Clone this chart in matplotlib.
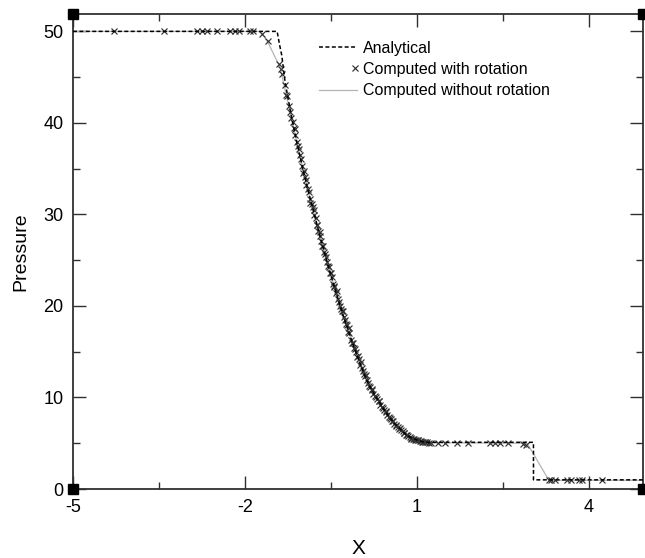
import numpy as np
import matplotlib
matplotlib.use("Agg")
import matplotlib.pyplot as plt
from matplotlib.legend_handler import HandlerLine2D

plt.rcParams["font.family"] = ["Liberation Sans", "DejaVu Sans"]
plt.rcParams["axes.unicode_minus"] = False

# Analytical solution
x_analytic = [-5.0, -1.44, -1.40, -1.36, -1.30, -1.20, -1.10, -1.00, -0.90, -0.80,
              -0.70, -0.60, -0.50, -0.40, -0.30, -0.20, -0.10, 0.00, 0.10, 0.20,
              0.30, 0.40, 0.50, 0.60, 0.70, 0.80, 0.90, 1.00, 1.10, 1.20,
              3.03, 3.03, 4.94]
p_analytic = [50.0, 50.0, 48.6, 47.4, 44.4, 41.0, 38.0, 35.2, 32.6, 30.2,
              27.8, 25.5, 23.3, 21.2, 19.2, 17.3, 15.5, 13.8, 12.2, 10.9,
              9.9, 8.9, 8.0, 7.2, 6.6, 6.0, 5.6, 5.35, 5.15, 5.1,
              5.1, 1.0, 1.0]

# Computed without rotation (grey line)
x_norot = [-5.0, -1.75, -1.70, -1.60, -1.50, -1.39, -1.30, -1.20, -1.10, -1.00,
           -0.90, -0.80, -0.70, -0.60, -0.50, -0.40, -0.30, -0.20, -0.10, 0.00,
           0.10, 0.20, 0.30, 0.40, 0.50, 0.60, 0.70, 0.80, 0.90, 1.00,
           1.10, 1.25, 2.92, 3.30, 4.94]
p_norot = [50.0, 50.0, 49.7, 48.8, 47.5, 46.1, 43.6, 40.8, 38.0, 35.2,
           32.6, 30.2, 27.8, 25.5, 23.3, 21.2, 19.2, 17.3, 15.5, 13.8,
           12.2, 10.9, 9.9, 8.9, 8.0, 7.2, 6.6, 6.0, 5.6, 5.35,
           5.15, 5.05, 5.0, 0.95, 0.95]

# Computed with rotation (x markers)
x_rot = [-4.28, -3.41, -2.84, -2.75, -2.66, -2.49, -2.26, -2.17, -2.10, -1.91,
         -1.86, -1.70, -1.60, -1.41, -1.38, -1.36, -1.31, -1.28, -1.24, -1.21,
         -1.17, -1.15, -1.12, -1.10, -1.08, -1.05, -1.03, -1.01, -0.98, -0.96,
         -0.94, -0.91, -0.89, -0.86, -0.84, -0.82, -0.79, -0.77, -0.74, -0.72,
         -0.69, -0.67, -0.64, -0.62, -0.59, -0.57, -0.54, -0.52, -0.49, -0.46,
         -0.44, -0.41, -0.38, -0.36, -0.33, -0.31, -0.28, -0.26, -0.23, -0.20,
         -0.18, -0.15, -0.12, -0.10, -0.07, -0.04, -0.02, 0.01, 0.04, 0.07,
         0.09, 0.12, 0.15, 0.18, 0.21, 0.24, 0.27, 0.30, 0.33, 0.36,
         0.39, 0.42, 0.45, 0.48, 0.51, 0.54, 0.57, 0.60, 0.63, 0.66,
         0.69, 0.72, 0.75, 0.78, 0.81, 0.84, 0.87, 0.90, 0.93, 0.96,
         0.99, 1.02, 1.05, 1.08, 1.11, 1.14, 1.17, 1.20, 1.24, 1.37,
         1.49, 1.70, 1.89, 2.27, 2.36, 2.45, 2.59, 2.85, 2.90, 3.30,
         3.34, 3.41, 3.62, 3.69, 3.83, 3.88, 4.23,
         # second row of nodes in the rarefaction fan
         -1.26, -1.19, -1.13, -1.06, -0.99, -0.93, -0.87, -0.80, -0.75, -0.70,
         -0.65, -0.60, -0.55, -0.50, -0.45, -0.40, -0.35, -0.29, -0.24, -0.19,
         -0.13, -0.08, -0.03, 0.02, 0.06, 0.11, 0.16, 0.22, 0.28, 0.34,
         0.40, 0.46, 0.52, 0.58, 0.64, 0.70, 0.77, 0.83, 0.89, 0.95,
         1.01, 1.07, 1.13]
p_rot = [50.0, 50.0, 50.0, 50.0, 50.0, 50.0, 50.0, 50.0, 50.0, 50.0,
         50.0, 49.7, 48.9, 46.4, 45.9, 45.3, 44.1, 43.0, 41.9, 41.2,
         40.1, 39.4, 38.7, 37.9, 37.5, 36.5, 36.1, 35.3, 34.8, 34.1,
         33.8, 32.8, 32.4, 31.7, 31.1, 30.8, 29.9, 29.6, 28.8, 28.2,
         27.6, 27.1, 26.5, 25.9, 25.3, 24.8, 24.3, 23.6, 23.2, 22.4,
         22.1, 21.4, 20.8, 20.4, 19.7, 19.5, 18.8, 18.5, 17.9, 17.2,
         17.0, 16.3, 15.9, 15.4, 15.0, 14.4, 14.2, 13.6, 13.2, 12.6,
         12.4, 11.9, 11.6, 11.1, 10.8, 10.4, 10.2, 9.8, 9.6, 9.2,
         9.0, 8.6, 8.5, 8.1, 7.9, 7.6, 7.4, 7.1, 7.0, 6.8,
         6.6, 6.4, 6.3, 6.1, 5.9, 5.8, 5.7, 5.55, 5.5, 5.4,
         5.3, 5.3, 5.2, 5.15, 5.1, 5.1, 5.1, 5.05, 5.05, 5.05,
         5.05, 5.05, 5.05, 5.05, 5.05, 5.05, 5.05, 4.9, 4.8, 0.95,
         0.95, 0.95, 0.95, 0.95, 0.95, 0.95, 0.95,
         42.9, 40.5, 39.3, 37.2, 34.5, 33.2, 31.2, 30.5, 28.9, 28.1,
         26.6, 25.7, 24.4, 23.6, 22.2, 21.6, 20.0, 19.4, 18.0, 17.6,
         15.9, 15.3, 14.5, 13.9, 12.9, 12.5, 11.3, 10.9, 10.0, 9.6,
         8.8, 8.4, 7.8, 7.4, 6.9, 6.7, 6.1, 5.9, 5.5, 5.45,
         5.35, 5.2, 5.1]

x_ticks = [-5, -2, 1, 4]
x_minor = [-3.5, -0.5, 2.5]
y_ticks = [0, 10, 20, 30, 40, 50]
y_minor = [5, 15, 25, 35, 45]


class RightMarker(HandlerLine2D):
    """Legend handler that puts the single marker at the right end."""

    def create_artists(self, legend, orig_handle, xdescent, ydescent,
                       width, height, fontsize, trans):
        artists = super().create_artists(legend, orig_handle, xdescent,
                                         ydescent, width, height, fontsize,
                                         trans)
        x0 = -xdescent
        x1 = -xdescent + width
        artists[0].set_xdata([x0, x1 - 0.1 * fontsize, x1])
        return artists


fig = plt.figure(figsize=(6.45, 5.58), dpi=100)
ax = fig.add_axes([73 / 645, 1 - 489 / 558, 570 / 645, 475 / 558])

ax.plot(x_norot, p_norot, color="#b4b4b4", lw=0.9,
        label="Computed without rotation", zorder=2)
ax.plot(x_rot, p_rot, ls="none", marker="x", ms=4.6, mew=0.85,
        color="#333333", label="Computed with rotation", zorder=3)
ax.plot(x_analytic, p_analytic, color="black", lw=1.1, dashes=(2.6, 1.6),
        label="Analytical", zorder=4)

ax.set_xlim(-5, 4.94)
ax.set_ylim(0, 51.9)
ax.set_xticks(x_ticks)
ax.set_xticks(x_minor, minor=True)
ax.set_yticks(y_ticks)
ax.set_yticks(y_minor, minor=True)
ax.tick_params(which="both", direction="in", top=True, right=True,
               colors="#303030", labelcolor="black", labelsize=13, width=1.0)
ax.tick_params(which="major", length=9.5, pad=7)
ax.tick_params(which="minor", length=5)
for s in ax.spines.values():
    s.set_color("#303030")
    s.set_linewidth(1.3)

ax.set_xlabel("X", fontsize=15, labelpad=17)
ax.set_ylabel("Pressure", fontsize=14, labelpad=10)

# little black squares on the frame corners
for cx, cy in [(0, 0), (0, 1), (1, 0), (1, 1)]:
    ax.plot(cx, cy, marker="s", ms=6.5, color="black", transform=ax.transAxes,
            clip_on=False, zorder=6)

h, l = ax.get_legend_handles_labels()
order = [2, 1, 0]
ax.legend([h[i] for i in order], [l[i] for i in order],
          loc="upper left", bbox_to_anchor=(311 / 645, 1 - 33 / 558),
          bbox_transform=fig.transFigure, frameon=False, fontsize=11.5,
          handlelength=2.35, handletextpad=0.4, labelspacing=0.38,
          borderpad=0, handler_map={h[1]: RightMarker()})

fig.savefig("out.png", dpi=100)
